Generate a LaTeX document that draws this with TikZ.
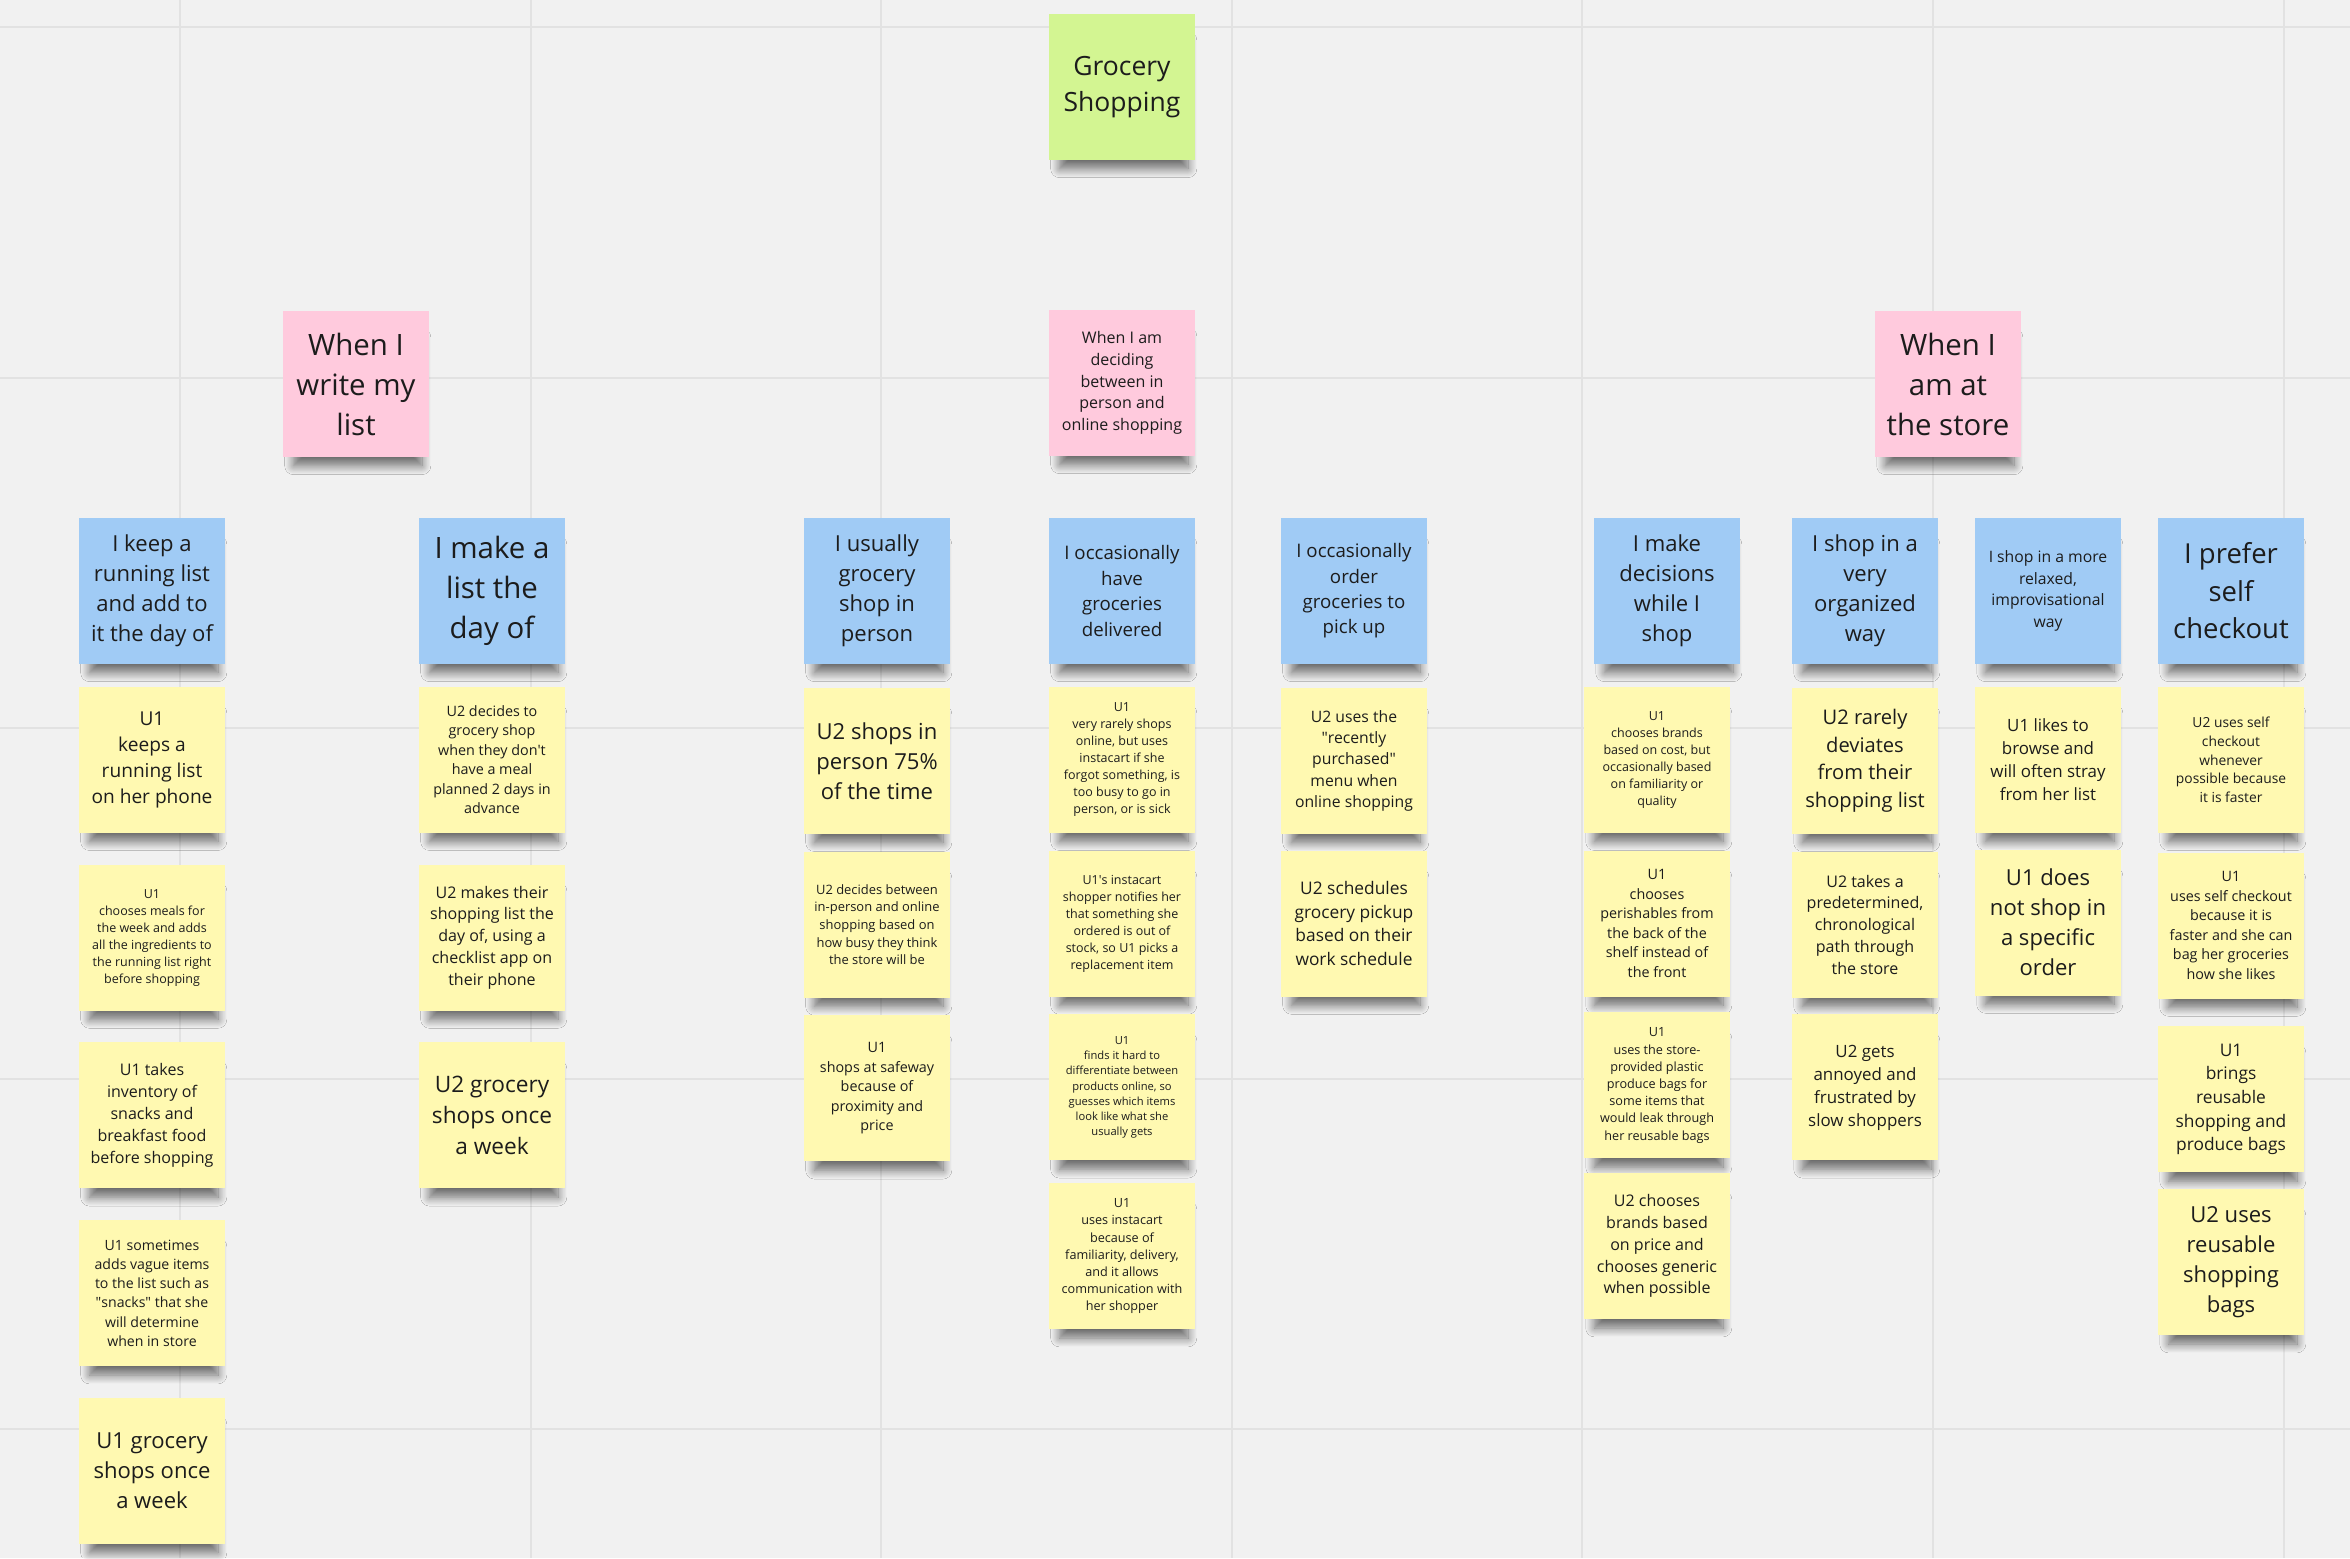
\documentclass[tikz,border=0pt]{standalone}
\usepackage{fontspec}
\setmainfont{Open Sans}
\usepackage{xcolor}
\usepackage{tikz}
\usetikzlibrary{positioning, shadows.blur}
\definecolor{board}{RGB}{241,241,241}
\definecolor{gridgray}{RGB}{226,226,226}
\definecolor{noteyellow}{RGB}{255,249,177}
\definecolor{noteblue}{RGB}{160,203,245}
\definecolor{notepink}{RGB}{255,202,221}
\definecolor{notegreen}{RGB}{211,245,146}
\definecolor{ink}{RGB}{28,28,28}
\newcommand\fsz[1]{\pgfmathsetmacro\fszsize{#1/1.36}\fontsize{\fszsize}{#1}\selectfont}

\begin{document}
\begin{tikzpicture}[
    x=0.5pt, y=-0.5pt,
    node distance=8.5pt,
    sticky/.style={rectangle, minimum width=73pt, minimum height=73pt, inner sep=0pt, align=center, text=ink, fill=#1,
        blur shadow={shadow xshift=1pt, shadow yshift=-10pt, shadow scale=0.88, shadow blur radius=5pt, shadow blur steps=12, shadow opacity=55}},
    fs/.style={font=\fsz{#1}}
]
\useasboundingbox (0,0) rectangle (2350,1558);
\fill[board] (0,0) rectangle (2350,1558);
\foreach \i in {0,...,6} \draw[gridgray, line width=1pt] ({180+350.6*\i},0) -- ({180+350.6*\i},1558);
\foreach \i in {0,...,4} \draw[gridgray, line width=1pt] (0,{27+350.6*\i}) -- (2350,{27+350.6*\i});

\node[sticky=notegreen, fs=18] (top) at (1122,87) {Grocery\\Shopping};
\node[sticky=notepink, fs=20] (w1) at (356,384) {When I\\write my\\list};
\node[sticky=notepink, fs=10.9] (w2) at (1122,383) {When I am\\deciding\\between in\\person and\\online shopping};
\node[sticky=notepink, fs=20] (w3) at (1948,384) {When I\\am at\\the store};

\node[sticky=noteblue, fs=15] (h1) at (152,591) {I keep a\\running list\\and add to\\it the day of};
\node[sticky=noteblue, fs=20] (h2) at (492,591) {I make a\\list the\\day of};
\node[sticky=noteblue, fs=15] (h3) at (877,591) {I usually\\grocery\\shop in\\person};
\node[sticky=noteblue, fs=12.7] (h4) at (1122,591) {I occasionally\\have\\groceries\\delivered};
\node[sticky=noteblue, fs=12.7] (h5) at (1354,591) {I occasionally\\order\\groceries to\\pick up};
\node[sticky=noteblue, fs=15] (h6) at (1667,591) {I make\\decisions\\while I\\shop};
\node[sticky=noteblue, fs=15] (h7) at (1865,591) {I shop in a\\very\\organized\\way};
\node[sticky=noteblue, fs=10.7] (h8) at (2048,591) {I shop in a more\\relaxed,\\improvisational\\way};
\node[sticky=noteblue, fs=18.7] (h9) at (2231,591) {I prefer\\self\\checkout};

\node[sticky=noteyellow, fs=13, below=11pt of h1] (n11) {U1\\keeps a\\running list\\on her phone};
\node[sticky=noteyellow, fs=8.5, below=15.5pt of n11] (n12) {U1\\chooses meals for\\the week and adds\\all the ingredients to\\the running list right\\before shopping};
\node[sticky=noteyellow, fs=10.9, below=15.5pt of n12] (n13) {U1 takes\\inventory of\\snacks and\\breakfast food\\before shopping};
\node[sticky=noteyellow, fs=9.6, below=15.5pt of n13] (n14) {U1 sometimes\\adds vague items\\to the list such as\\\textquotedbl snacks\textquotedbl{} that she\\will determine\\when in store};
\node[sticky=noteyellow, fs=15, below=15.5pt of n14] (n15) {U1 grocery\\shops once\\a week};

\node[sticky=noteyellow, fs=9.75, below=11pt of h2] (n21) {U2 decides to\\grocery shop\\when they don\textquotesingle t\\have a meal\\planned 2 days in\\advance};
\node[sticky=noteyellow, fs=10.9, below=15.5pt of n21] (n22) {U2 makes their\\shopping list the\\day of, using a\\checklist app on\\their phone};
\node[sticky=noteyellow, fs=15.4, below=15.5pt of n22] (n23) {U2 grocery\\shops once\\a week};

\node[sticky=noteyellow, fs=15, below=11.5pt of h3] (n31) {U2 shops in\\person 75\%\\of the time};
\node[sticky=noteyellow, fs=8.8, below=of n31] (n32) {U2 decides between\\in-person and online\\shopping based on\\how busy they think\\the store will be};
\node[sticky=noteyellow, fs=9.75, below=of n32] (n33) {U1\\shops at safeway\\because of\\proximity and\\price};

\node[sticky=noteyellow, fs=8.5, below=11pt of h4] (n41) {U1\\very rarely shops\\online, but uses\\instacart if she\\forgot something, is\\too busy to go in\\person, or is sick};
\node[sticky=noteyellow, fs=8.5, below=of n41] (n42) {U1\textquotesingle s instacart\\shopper notifies her\\that something she\\ordered is out of\\stock, so U1 picks a\\replacement item};
\node[sticky=noteyellow, fs=7.6, below=of n42] (n43) {U1\\finds it hard to\\differentiate between\\products online, so\\guesses which items\\look like what she\\usually gets};
\node[sticky=noteyellow, fs=8.6, below=11pt of n43] (n44) {U1\\uses instacart\\because of\\familiarity, delivery,\\and it allows\\communication with\\her shopper};

\node[sticky=noteyellow, fs=10.7, below=11.5pt of h5] (n51) {U2 uses the\\\textquotedbl recently\\purchased\textquotedbl\\menu when\\online shopping};
\node[sticky=noteyellow, fs=11.8, below=8pt of n51] (n52) {U2 schedules\\grocery pickup\\based on their\\work schedule};

\node[sticky=noteyellow, fs=8.5, below=11pt of h6, xshift=-5pt] (n61) {U1\\chooses brands\\based on cost, but\\occasionally based\\on familiarity or\\quality};
\node[sticky=noteyellow, fs=9.75, below=of n61] (n62) {U1\\chooses\\perishables from\\the back of the\\shelf instead of\\the front};
\node[sticky=noteyellow, fs=8.6, below=7.5pt of n62] (n63) {U1\\uses the store-\\provided plastic\\produce bags for\\some items that\\would leak through\\her reusable bags};
\node[sticky=noteyellow, fs=10.9, below=7pt of n63] (n64) {U2 chooses\\brands based\\on price and\\chooses generic\\when possible};

\node[sticky=noteyellow, fs=13.7, below=11.5pt of h7] (n71) {U2 rarely\\deviates\\from their\\shopping list};
\node[sticky=noteyellow, fs=10.9, below=of n71] (n72) {U2 takes a\\predetermined,\\chronological\\path through\\the store};
\node[sticky=noteyellow, fs=11.5, below=8pt of n72] (n73) {U2 gets\\annoyed and\\frustrated by\\slow shoppers};

\node[sticky=noteyellow, fs=11.5, below=11pt of h8] (n81) {U1 likes to\\browse and\\will often stray\\from her list};
\node[sticky=noteyellow, fs=15, below=8pt of n81] (n82) {U1 does\\not shop in\\a specific\\order};

\node[sticky=noteyellow, fs=9.4, below=11pt of h9] (n91) {U2 uses self\\checkout\\whenever\\possible because\\it is faster};
\node[sticky=noteyellow, fs=9.75, below=9.5pt of n91] (n92) {U1\\uses self checkout\\because it is\\faster and she can\\bag her groceries\\how she likes};
\node[sticky=noteyellow, fs=11.8, below=13.5pt of n92] (n93) {U1\\brings\\reusable\\shopping and\\produce bags};
\node[sticky=noteyellow, fs=15, below=8pt of n93] (n94) {U2 uses\\reusable\\shopping\\bags};
\end{tikzpicture}
\end{document}
